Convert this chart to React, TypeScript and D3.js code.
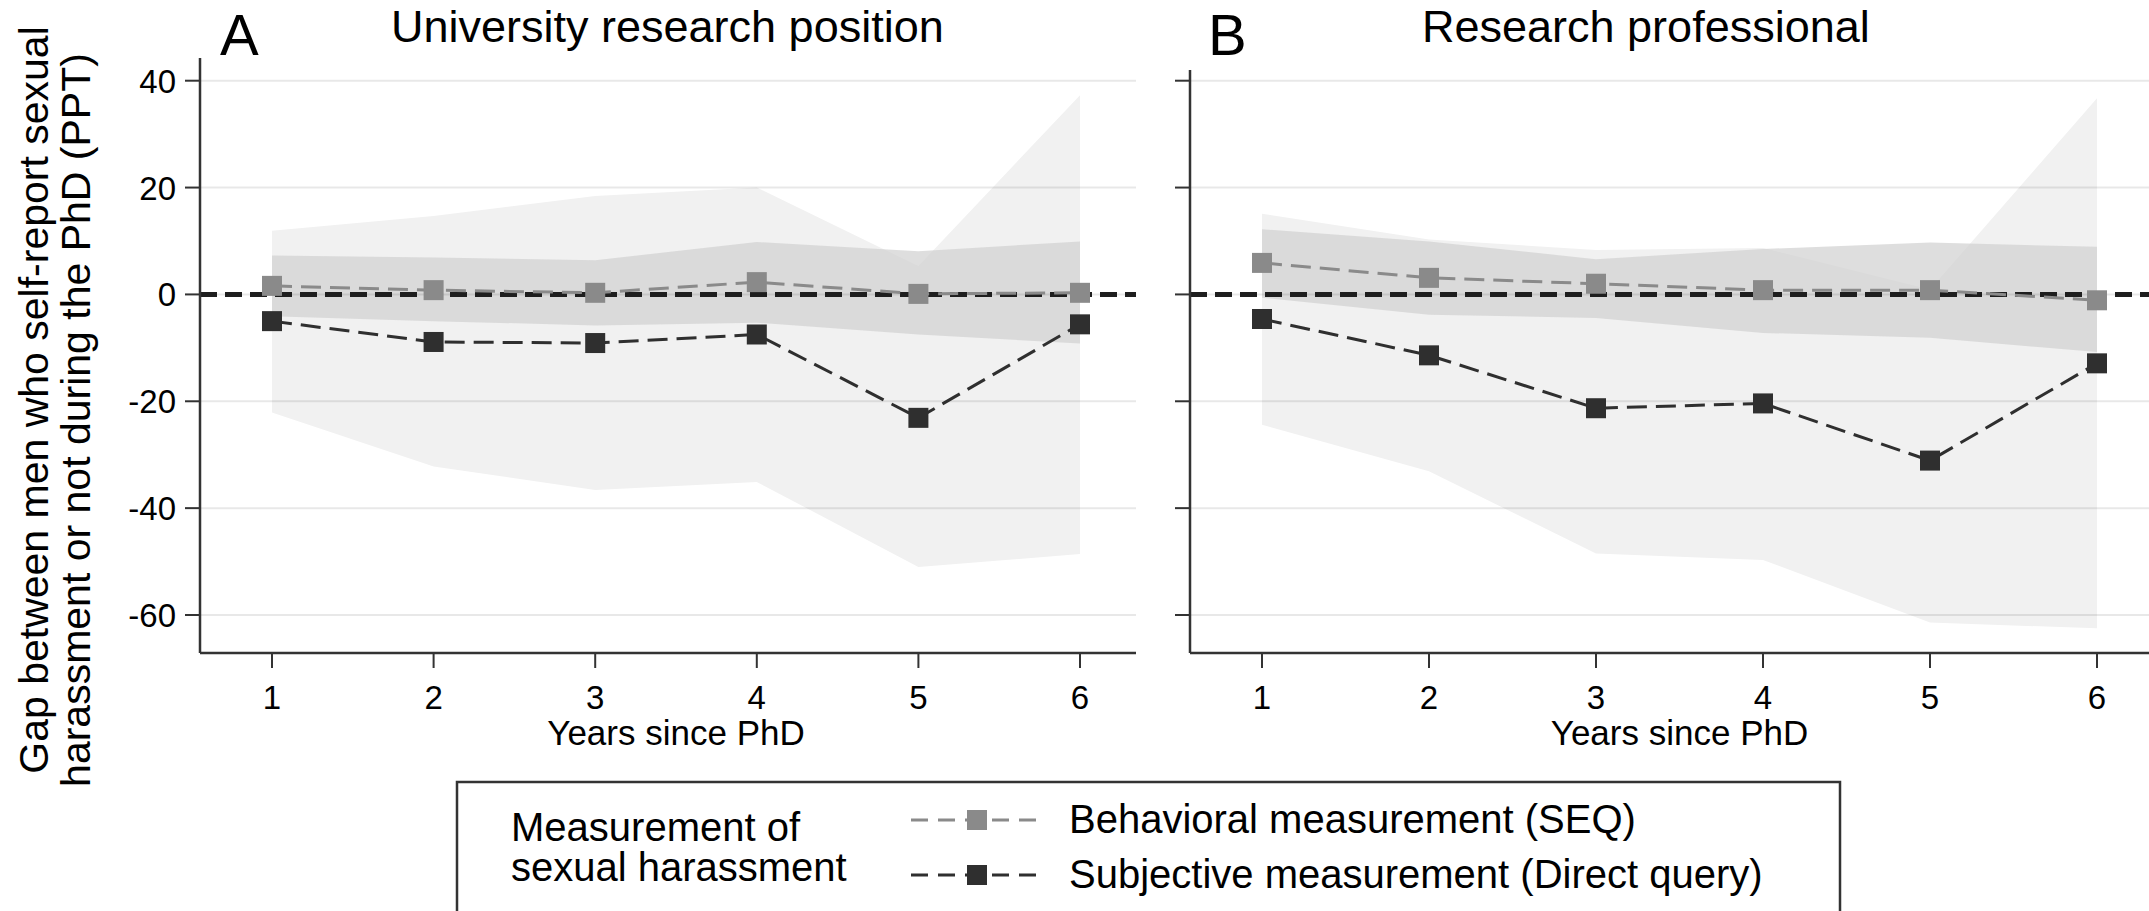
import React, { useEffect, useRef } from "react";
import * as d3 from "d3";

// Years since PhD (x categories)
const years = [1, 2, 3, 4, 5, 6];
const yTicks = [40, 20, 0, -20, -40, -60];

// Panel A: University research position
const behavA = [1.6, 0.8, 0.3, 2.3, 0.1, 0.3];
const behavALo = [-4.1, -5.0, -5.8, -5.3, -7.5, -9.2];
const behavAHi = [7.3, 6.9, 6.4, 9.8, 8.1, 9.9];
const subjA = [-5.0, -8.9, -9.1, -7.5, -23.1, -5.6];
const subjALo = [-22.1, -32.2, -36.6, -35.1, -51.0, -48.6];
const subjAHi = [11.9, 14.7, 18.4, 20.0, 5.3, 37.3];

// Panel B: Research professional
const behavB = [5.9, 3.1, 2.0, 0.8, 0.8, -1.1];
const behavBLo = [-0.6, -3.8, -4.4, -7.2, -8.1, -10.8];
const behavBHi = [12.2, 9.9, 6.6, 8.5, 9.7, 8.9];
const subjB = [-4.6, -11.4, -21.3, -20.4, -31.1, -12.9];
const subjBLo = [-24.4, -33.1, -48.5, -49.7, -61.4, -62.5];
const subjBHi = [15.1, 10.3, 8.3, 8.7, 0.9, 36.7];

const legendTitle = ["Measurement of", "sexual harassment"];
const legendLabels = [
  "Behavioral measurement (SEQ)",
  "Subjective measurement (Direct query)",
];
const yLabel = [
  "Gap between men who self-report sexual",
  "harassment or not during the PhD (PPT)",
];

const W = 2149;
const H = 911;
const font = "'Liberation Sans', Arial, sans-serif";

const GRAY = "#8a8a8a";
const DARK = "#2f2f2f";

const App: React.FC = () => {
  const svgRef = useRef<SVGSVGElement | null>(null);

  useEffect(() => {
    const svg = d3.select(svgRef.current);
    svg.selectAll("*").remove();

    svg.append("rect").attr("width", W).attr("height", H).attr("fill", "white");

    const y = d3.scaleLinear().domain([40, -60]).range([80.7, 615]);
    const axisY = 653;

    const panels = [
      {
        letter: "A",
        title: "University research position",
        left: 200,
        right: 1136,
        top: 58,
        range: [272, 1080],
        titleX: 391,
        letterX: 220,
        showLabels: true,
        behav: behavA,
        behavLo: behavALo,
        behavHi: behavAHi,
        subj: subjA,
        subjLo: subjALo,
        subjHi: subjAHi,
      },
      {
        letter: "B",
        title: "Research professional",
        left: 1190,
        right: 2160,
        top: 70,
        range: [1262, 2097],
        titleX: 1422,
        letterX: 1208,
        showLabels: false,
        behav: behavB,
        behavLo: behavBLo,
        behavHi: behavBHi,
        subj: subjB,
        subjLo: subjBLo,
        subjHi: subjBHi,
      },
    ];

    panels.forEach((p) => {
      const x = d3.scaleLinear().domain([1, 6]).range(p.range);
      const g = svg.append("g").style("font-family", font);

      const band = (lo: number[], hi: number[]) =>
        d3
          .area<number>()
          .x((d) => x(d))
          .y0((_d, i) => y(lo[i]))
          .y1((_d, i) => y(hi[i]))(years);

      // subjective CI (wide, light)
      g.append("path").attr("d", band(p.subjLo, p.subjHi)!).attr("fill", "#f1f1f1");
      // behavioral CI (narrow, darker)
      g.append("path")
        .attr("d", band(p.behavLo, p.behavHi)!)
        .attr("fill", "#d0d0d0")
        .attr("opacity", 0.7);

      // grid lines
      g.selectAll(".grid")
        .data(yTicks)
        .enter()
        .append("line")
        .attr("x1", p.left)
        .attr("x2", p.right)
        .attr("y1", (d) => y(d))
        .attr("y2", (d) => y(d))
        .attr("stroke", "#000")
        .attr("stroke-opacity", 0.09)
        .attr("stroke-width", 2);

      // zero reference line
      g.append("line")
        .attr("x1", p.left)
        .attr("x2", p.right)
        .attr("y1", y(0))
        .attr("y2", y(0))
        .attr("stroke", "#1e1e1e")
        .attr("stroke-width", 5)
        .attr("stroke-dasharray", "17 8");

      // series
      const series = [
        { vals: p.behav, color: GRAY },
        { vals: p.subj, color: DARK },
      ];
      series.forEach((s) => {
        const line = d3
          .line<number>()
          .x((d) => x(d))
          .y((_d, i) => y(s.vals[i]));
        g.append("path")
          .attr("d", line(years)!)
          .attr("fill", "none")
          .attr("stroke", s.color)
          .attr("stroke-width", 3)
          .attr("stroke-dasharray", "20 9");
        g.selectAll(null)
          .data(years)
          .enter()
          .append("rect")
          .attr("x", (d) => x(d) - 10)
          .attr("y", (_d, i) => y(s.vals[i]) - 10)
          .attr("width", 20)
          .attr("height", 20)
          .attr("fill", s.color);
      });

      // axes
      g.append("line")
        .attr("x1", p.left)
        .attr("x2", p.left)
        .attr("y1", p.top)
        .attr("y2", axisY)
        .attr("stroke", "#333")
        .attr("stroke-width", 2.5);
      g.append("line")
        .attr("x1", p.left)
        .attr("x2", p.right)
        .attr("y1", axisY)
        .attr("y2", axisY)
        .attr("stroke", "#333")
        .attr("stroke-width", 2.5);

      g.selectAll(null)
        .data(yTicks)
        .enter()
        .append("line")
        .attr("x1", p.left - 15)
        .attr("x2", p.left)
        .attr("y1", (d) => y(d))
        .attr("y2", (d) => y(d))
        .attr("stroke", "#333")
        .attr("stroke-width", 2);

      if (p.showLabels) {
        g.selectAll(null)
          .data(yTicks)
          .enter()
          .append("text")
          .attr("x", p.left - 24)
          .attr("y", (d) => y(d) + 12)
          .attr("text-anchor", "end")
          .style("font-size", "33px")
          .text((d) => String(d));
      }

      g.selectAll(null)
        .data(years)
        .enter()
        .append("line")
        .attr("x1", (d) => x(d))
        .attr("x2", (d) => x(d))
        .attr("y1", axisY)
        .attr("y2", axisY + 15)
        .attr("stroke", "#333")
        .attr("stroke-width", 2);

      g.selectAll(null)
        .data(years)
        .enter()
        .append("text")
        .attr("x", (d) => x(d))
        .attr("y", 709)
        .attr("text-anchor", "middle")
        .style("font-size", "33px")
        .text((d) => String(d));

      g.append("text")
        .attr("x", (x(1) + x(6)) / 2)
        .attr("y", 745)
        .attr("text-anchor", "middle")
        .style("font-size", "35px")
        .text("Years since PhD");

      g.append("text")
        .attr("x", p.titleX)
        .attr("y", 42)
        .style("font-size", "45px")
        .text(p.title);

      g.append("text")
        .attr("x", p.letterX)
        .attr("y", 55)
        .style("font-size", "58px")
        .text(p.letter);
    });

    // y axis label
    const yl = svg.append("g").style("font-family", font).style("font-size", "41px");
    yl.append("text")
      .attr("transform", "translate(48,400) rotate(-90)")
      .attr("text-anchor", "middle")
      .text(yLabel[0]);
    yl.append("text")
      .attr("transform", "translate(90,420) rotate(-90)")
      .attr("text-anchor", "middle")
      .text(yLabel[1]);

    // legend
    const lg = svg.append("g").style("font-family", font).style("font-size", "40px");
    lg.append("rect")
      .attr("x", 457)
      .attr("y", 782)
      .attr("width", 1383)
      .attr("height", 200)
      .attr("fill", "white")
      .attr("stroke", "#333")
      .attr("stroke-width", 2.5);
    legendTitle.forEach((t, i) => {
      lg.append("text").attr("x", 511).attr("y", 841 + i * 40).text(t);
    });
    [GRAY, DARK].forEach((c, i) => {
      const cy = 820 + i * 55;
      lg.append("line")
        .attr("x1", 911)
        .attr("x2", 1042)
        .attr("y1", cy)
        .attr("y2", cy)
        .attr("stroke", c)
        .attr("stroke-width", 3)
        .attr("stroke-dasharray", "17 10");
      lg.append("rect")
        .attr("x", 967)
        .attr("y", cy - 10)
        .attr("width", 20)
        .attr("height", 20)
        .attr("fill", c);
      lg.append("text")
        .attr("x", 1069)
        .attr("y", cy + 13)
        .text(legendLabels[i]);
    });
  }, []);

  return (
    <div style={{ position: "absolute", left: 0, top: 0 }}>
      <svg ref={svgRef} width={W} height={H} style={{ display: "block" }}></svg>
    </div>
  );
};

export default App;
